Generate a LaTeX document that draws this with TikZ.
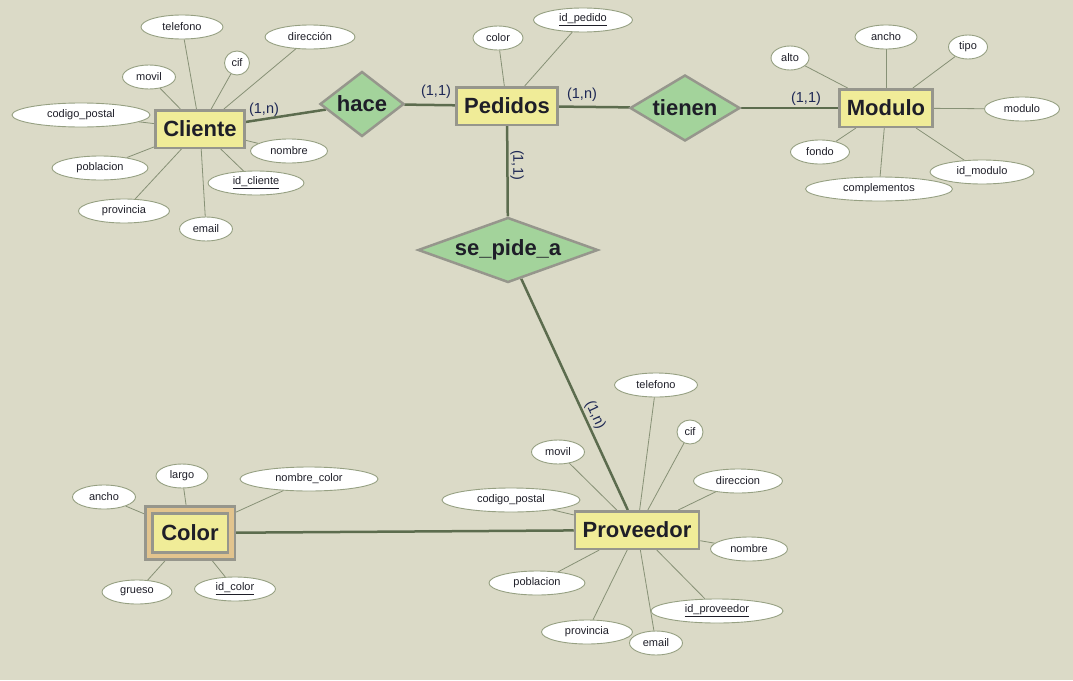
\documentclass[tikz,border=0pt]{standalone}
\usepackage{fontspec}
\setmainfont{Liberation Sans}
\usetikzlibrary{shapes.geometric,backgrounds}

\definecolor{bgcolor}{RGB}{219,218,199}
\definecolor{entitycolor}{RGB}{240,236,152}
\definecolor{relationcolor}{RGB}{163,211,155}
\definecolor{weakcolor}{RGB}{226,196,142}
\definecolor{bordercolor}{RGB}{150,150,140}
\definecolor{linkcolor}{RGB}{92,108,78}
\definecolor{attrlinecolor}{RGB}{135,145,118}
\definecolor{ellipsecolor}{RGB}{150,160,130}
\definecolor{cardcolor}{RGB}{30,40,85}
\definecolor{textcolor}{RGB}{30,30,40}

\begin{document}
\begin{tikzpicture}[x=1pt,y=-1pt,
    entity/.style={draw=bordercolor, line width=2.5pt, fill=entitycolor, text=textcolor,
      font=\fontsize{22}{26}\selectfont\bfseries, inner xsep=7.6pt, minimum height=37.5pt},
    weak/.style={double=weakcolor, double distance=4.5pt, minimum width=82.5pt, minimum height=45.8pt},
    relation/.style={diamond, draw=bordercolor, line width=2.5pt, fill=relationcolor, text=textcolor,
      font=\fontsize{22}{26}\selectfont\bfseries, inner sep=0pt},
    attribute/.style={ellipse, draw=ellipsecolor, line width=0.9pt, fill=white, text=textcolor,
      font=\fontsize{11}{13}\selectfont, inner sep=0pt, minimum height=24pt},
    link/.style={draw=linkcolor, line width=2.5pt},
    attrline/.style={draw=attrlinecolor, line width=0.8pt},
    card/.style={text=cardcolor, font=\fontsize{14.5}{17}\selectfont, inner sep=0pt}]

  % Background
  \begin{pgfonlayer}{background}
    \fill[bgcolor] (0,0) rectangle (1073,680);
  \end{pgfonlayer}
  \useasboundingbox (0,0) rectangle (1073,680);

  % Entities
  \node[entity] (cliente) at (200,129) {Cliente};
  \node[entity] (pedidos) at (507,106) {Pedidos};
  \node[entity] (modulo) at (886,108) {Modulo};
  \node[entity] (proveedor) at (637,530) {Proveedor};
  \node[entity, weak] (color) at (190,533) {Color};

  % Relationships
  \node[relation, aspect=1.28, minimum width=84pt, minimum height=65pt] (hace) at (362,104) {hace};
  \node[relation, aspect=1.65, minimum width=110pt, minimum height=66pt] (tienen) at (685,108) {tienen};
  \node[relation, aspect=2.7, minimum width=180pt, minimum height=65pt] (sepide) at (508,250) {se\_pide\_a};

  % Links between entities and relationships
  \begin{pgfonlayer}{background}
    \draw[link] (cliente) -- (hace);
    \draw[link] (hace) -- (pedidos);
    \draw[link] (pedidos) -- (tienen);
    \draw[link] (tienen) -- (modulo);
    \draw[link] (pedidos) -- (sepide);
    \draw[link] (sepide) -- (proveedor);
    \draw[link] (color) -- (proveedor);
  \end{pgfonlayer}

  % Cardinalities
  \node[card] (cardCliente) at (264,110) {(1,n)};
  \node[card] (cardHace) at (436,92) {(1,1)};
  \node[card] (cardPedidos) at (582,95) {(1,n)};
  \node[card] (cardModulo) at (806,99) {(1,1)};
  \node[card, rotate=-90] (cardSepide) at (517,165) {(1,1)};
  \node[card, rotate=-65] (cardProveedor) at (595,415) {(1,n)};

  % Attributes of Cliente
  \foreach \n/\x/\y/\w/\txt in {cliTelefono/182/27/82/telefono, cliDireccion/310/37/90/dirección,
      cliCif/237/63/25/cif, cliMovil/149/77/53/movil, cliCodigo/81/115/138/codigo\_postal,
      cliNombre/289/151/77/nombre, cliPoblacion/100/168/96/poblacion,
      cliId/256/183/96/\underline{id\_cliente}, cliProvincia/124/211/91/provincia, cliEmail/206/229/53/email} {
    \node[attribute, minimum width=\w pt] (\n) at (\x,\y) {\txt};
    \begin{pgfonlayer}{background}
      \draw[attrline] (cliente) -- (\n);
    \end{pgfonlayer}
  }

  % Attributes of Pedidos
  \foreach \n/\x/\y/\w/\txt in {pedColor/498/38/50/color, pedId/583/20/99/\underline{id\_pedido}} {
    \node[attribute, minimum width=\w pt] (\n) at (\x,\y) {\txt};
    \begin{pgfonlayer}{background}
      \draw[attrline] (pedidos) -- (\n);
    \end{pgfonlayer}
  }

  % Attributes of Modulo
  \foreach \n/\x/\y/\w/\txt in {modAlto/790/58/38/alto, modAncho/886/37/62/ancho, modTipo/968/47/39/tipo,
      modModulo/1022/109/75/modulo, modFondo/820/152/59/fondo, modId/982/172/104/id\_modulo,
      modComplementos/879/189/147/complementos} {
    \node[attribute, minimum width=\w pt] (\n) at (\x,\y) {\txt};
    \begin{pgfonlayer}{background}
      \draw[attrline] (modulo) -- (\n);
    \end{pgfonlayer}
  }

  % Attributes of Proveedor
  \foreach \n/\x/\y/\w/\txt in {provTelefono/656/385/83/telefono, provCif/690/432/26/cif,
      provDireccion/738/481/89/direccion, provMovil/558/452/53/movil, provCodigo/511/500/138/codigo\_postal,
      provNombre/749/549/77/nombre, provPoblacion/537/583/96/poblacion,
      provId/717/611/132/\underline{id\_proveedor}, provProvincia/587/632/91/provincia, provEmail/656/643/53/email} {
    \node[attribute, minimum width=\w pt] (\n) at (\x,\y) {\txt};
    \begin{pgfonlayer}{background}
      \draw[attrline] (proveedor) -- (\n);
    \end{pgfonlayer}
  }

  % Attributes of Color
  \foreach \n/\x/\y/\w/\txt in {colAncho/104/497/63/ancho, colLargo/182/476/52/largo,
      colNombre/309/479/138/nombre\_color, colGrueso/137/592/70/grueso, colId/235/589/81/\underline{id\_color}} {
    \node[attribute, minimum width=\w pt] (\n) at (\x,\y) {\txt};
    \begin{pgfonlayer}{background}
      \draw[attrline] (color) -- (\n);
    \end{pgfonlayer}
  }
\end{tikzpicture}
\end{document}
